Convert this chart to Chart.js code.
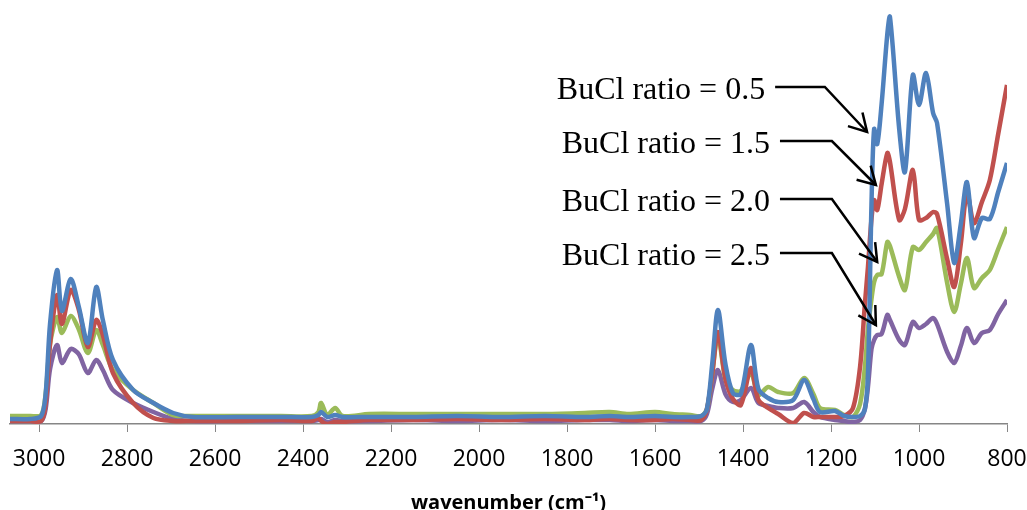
<!DOCTYPE html>
<html>
<head>
<meta charset="utf-8">
<script src="https://cdn.jsdelivr.net/npm/chart.js@4"></script>
<style>
  body { margin: 0; background: #fff; }
  canvas { display: block; }
</style>
</head>
<body>
<canvas id="myChart" width="1027" height="510"></canvas>
<script>
// wavenumber (cm-1), high to low
const wavenumbers = [3066, 3020, 2995, 2985, 2975, 2959, 2948, 2928, 2910, 2889, 2870, 2855, 2832, 2786, 2740, 2695,
  2650, 2550, 2450, 2380, 2365, 2359, 2345, 2327, 2310, 2250, 2150, 2050, 1950, 1850, 1760, 1703, 1660, 1600, 1560,
  1520, 1495, 1482, 1470, 1457, 1440, 1423, 1405, 1382, 1365, 1343, 1320, 1286, 1261, 1240, 1225, 1191, 1170, 1150,
  1134, 1123, 1116, 1108, 1102, 1095, 1085, 1072, 1066, 1045, 1032, 1014, 1000, 984, 968, 959, 936, 920, 905, 891,
  875, 857, 839, 820, 800];

// absorbance (arbitrary units)
const ratio05 = [5, 5, 8, 30, 100, 154, 113, 145, 118, 81, 137, 104, 64, 34, 21, 11,
  7, 7, 7, 7, 9, 12, 7, 9, 7, 7, 7, 8, 7, 8, 7, 8, 7, 8, 7,
  7, 8, 15, 60, 114, 60, 31, 30, 79, 35, 26, 22, 24, 44, 25, 12, 13, 8, 7,
  8, 15, 50, 220, 295, 280, 320, 390, 407, 295, 252, 349, 319, 351, 311, 301, 220, 161, 200, 242,
  186, 206, 205, 232, 261];
const ratio15 = [3, 3, 3, 20, 80, 129, 100, 134, 115, 77, 104, 89, 51, 21, 6, 3,
  3, 3, 4, 3, 6, 3, 0, 2, 2, 4, 4, 5, 4, 5, 4, 5, 4, 4, 5,
  4, 4, 15, 50, 92, 45, 25, 19, 56, 24, 16, 10, 1, 11, 7, 7, 7, 8, 16,
  57, 120, 157, 205, 224, 214, 240, 271, 262, 204, 215, 254, 204, 206, 212, 210, 165, 137, 180, 231,
  201, 222, 244, 290, 339];
const ratio20 = [8, 8, 9, 30, 80, 107, 91, 108, 95, 71, 94, 79, 54, 34, 21, 9,
  8, 8, 8, 8, 12, 21, 9, 16, 8, 10, 10, 10, 10, 10, 11, 12, 10, 12, 10,
  9, 8, 15, 50, 89, 45, 34, 33, 51, 29, 37, 32, 31, 46, 30, 16, 14, 9, 7,
  20, 57, 95, 125, 142, 149, 150, 182, 178, 147, 134, 177, 174, 182, 190, 196, 141, 112, 140, 166,
  136, 146, 154, 175, 197];
const ratio25 = [3, 3, 3, 15, 55, 79, 61, 75, 70, 51, 64, 54, 34, 21, 12, 5,
  3, 3, 3, 3, 4, 5, 2, 4, 3, 3, 4, 3, 4, 3, 4, 4, 3, 4, 3,
  3, 3, 10, 35, 54, 30, 22, 24, 36, 21, 18, 16, 16, 22, 12, 7, 4, 3, 2,
  4, 15, 37, 75, 84, 89, 90, 109, 104, 84, 79, 102, 96, 100, 106, 100, 72, 61, 78, 96,
  81, 91, 94, 110, 124];

const tickValues = [3000, 2800, 2600, 2400, 2200, 2000, 1800, 1600, 1400, 1200, 1000, 800];

// call-out labels: leader starts (wavenumber), elbow and arrow tip (wavenumber, absorbance)
const labelText = ['BuCl ratio = 0.5', 'BuCl ratio = 1.5', 'BuCl ratio = 2.0', 'BuCl ratio = 2.5'];
const leaderStart = [1327, 1316, 1316, 1316];
const leaderElbow = [[1214, 337], [1198, 283], [1198, 225], [1198, 171]];
const arrowTip = [[1118, 292], [1098, 239], [1095, 162], [1098, 99]];

const callouts = {
  id: 'callouts',
  afterDraw(chart) {
    const c = chart.ctx, xs = chart.scales.x, ys = chart.scales.y;
    c.save();
    c.strokeStyle = '#000';
    c.lineWidth = 2.5;
    c.fillStyle = '#000';
    c.font = '32px "Liberation Serif", "Times New Roman", serif';
    c.textAlign = 'right';
    c.textBaseline = 'middle';
    labelText.forEach((t, i) => {
      const ey = ys.getPixelForValue(leaderElbow[i][1]);
      const sx = xs.getPixelForValue(leaderStart[i]);
      const ex = xs.getPixelForValue(leaderElbow[i][0]);
      const tx = xs.getPixelForValue(arrowTip[i][0]);
      const ty = ys.getPixelForValue(arrowTip[i][1]);
      c.fillText(t, sx - 10, ey + 4);
      c.beginPath();
      c.moveTo(sx, ey);
      c.lineTo(ex, ey);
      c.lineTo(tx, ty);
      c.stroke();
      const a = Math.atan2(ey - ty, ex - tx);
      c.beginPath();
      c.moveTo(tx + 20 * Math.cos(a + 0.52), ty + 20 * Math.sin(a + 0.52));
      c.lineTo(tx, ty);
      c.lineTo(tx + 20 * Math.cos(a - 0.52), ty + 20 * Math.sin(a - 0.52));
      c.stroke();
    });
    c.restore();
  }
};

const ctx = document.getElementById('myChart');

function series(label, values, color) {
  return {
    label: label,
    data: values.map((v, i) => ({ x: wavenumbers[i], y: v })),
    borderColor: color,
    backgroundColor: color,
    borderWidth: 4.5,
    pointRadius: 0,
    tension: 0.3,
    fill: false
  };
}

new Chart(ctx, {
  type: 'line',
  data: {
    datasets: [
      series('BuCl ratio = 0.5', ratio05, '#4F81BD'),
      series('BuCl ratio = 1.5', ratio15, '#C0504D'),
      series('BuCl ratio = 2.0', ratio20, '#9BBB59'),
      series('BuCl ratio = 2.5', ratio25, '#8064A2')
    ]
  },
  plugins: [callouts],
  options: {
    responsive: false,
    animation: false,
    layout: { padding: { left: 10, right: 20, top: 4, bottom: 0 } },
    plugins: { legend: { display: false }, tooltip: { enabled: false } },
    scales: {
      x: {
        type: 'linear',
        reverse: true,
        min: 800,
        max: 3066,
        afterBuildTicks: (axis) => { axis.ticks = tickValues.map(v => ({ value: v })); },
        afterFit: (axis) => { axis.paddingLeft = 0; axis.paddingRight = 0; axis.height = 86; },
        grid: { drawOnChartArea: false, drawTicks: true, tickLength: 8, color: '#868686' },
        border: { color: '#868686', width: 1.5 },
        ticks: {
          color: '#000',
          padding: 14,
          maxRotation: 0,
          autoSkip: false,
          callback: (v) => String(v),
          font: { family: '"Open Sans"', size: 23 }
        },
        title: {
          display: true,
          text: 'wavenumber (cm⁻¹)',
          color: '#000',
          padding: { top: 0, bottom: 0 },
          font: { family: '"Open Sans"', size: 20, weight: 'bold', lineHeight: 0.7 }
        }
      },
      y: {
        display: false,
        min: 0,
        max: 420
      }
    }
  }
});
</script>
</body>
</html>
